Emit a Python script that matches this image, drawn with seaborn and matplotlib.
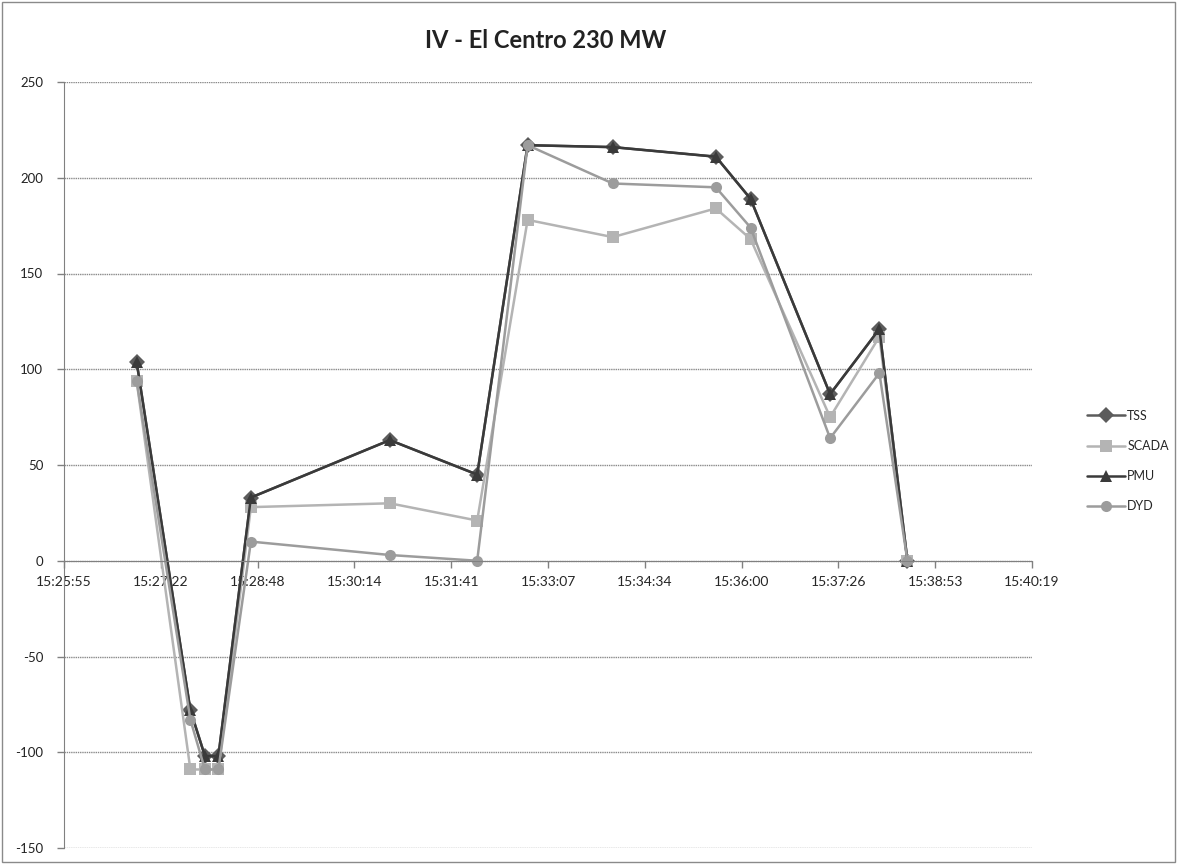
import numpy as np
import pandas as pd
import matplotlib
matplotlib.use("Agg")
import matplotlib.pyplot as plt
from matplotlib.patches import Rectangle
import seaborn as sns

# sample times (hh:mm:ss) and MW values
times = ["15:27:00", "15:27:48", "15:28:01", "15:28:13", "15:28:42", "15:30:46",
         "15:32:04", "15:32:49", "15:34:05", "15:35:37", "15:36:08", "15:37:19",
         "15:38:03", "15:38:28"]
tss = [104, -78, -102, -102, 33, 63, 45, 217, 216, 211, 189, 87, 121, 0]
scada = [94, -109, -109, -109, 28, 30, 21, 178, 169, 184, 168, 75, 117, 0]
pmu = [104, -78, -102, -102, 33, 63, 45, 217, 216, 211, 189, 87, 121, 0]
dyd = [94, -83, -109, -109, 10, 3, 0, 217, 197, 195, 174, 64, 98, 0]

series_names = ["TSS", "SCADA", "PMU", "DYD"]
x_tick_labels = ["15:25:55", "15:27:22", "15:28:48", "15:30:14", "15:31:41", "15:33:07",
                 "15:34:34", "15:36:00", "15:37:26", "15:38:53", "15:40:19"]
y_ticks = [-150, -100, -50, 0, 50, 100, 150, 200, 250]
title = "IV - El Centro 230 MW"

# Excel axis starts at 0.643 day, major unit 0.001 day (86.4 s)
AXIS_START = 0.643 * 86400
MAJOR = 86.4


def to_sec(s):
    h, m, sec = (int(v) for v in s.split(":"))
    return h * 3600 + m * 60 + sec - AXIS_START


t = [to_sec(s) for s in times]
df = pd.concat([
    pd.DataFrame({"t": t, "value": vals, "series": name})
    for name, vals in zip(series_names, [tss, scada, pmu, dyd])
], ignore_index=True)

sns.set_style("white")
plt.rcParams["font.family"] = ["Lato", "DejaVu Sans"]

fig = plt.figure(figsize=(11.77, 8.64), dpi=100)
ax = fig.add_axes([64 / 1177, 16 / 864, (1032 - 64) / 1177, (848 - 82) / 864])

palette = {"TSS": "#5c5c5c", "SCADA": "#b4b4b4", "PMU": "#3a3a3a", "DYD": "#9c9c9c"}
markers = {"TSS": "D", "SCADA": "s", "PMU": "^", "DYD": "o"}

sns.lineplot(data=df, x="t", y="value", hue="series", style="series",
             hue_order=series_names, style_order=series_names,
             palette=palette, markers=markers, dashes=False,
             sort=False, estimator=None, linewidth=1.8, markersize=8,
             markeredgewidth=0, ax=ax)

ax.set_xlim(0, 10 * MAJOR)
ax.set_ylim(-150, 250)
ax.set_xticks([i * MAJOR for i in range(len(x_tick_labels))])
ax.set_xticklabels(x_tick_labels, fontsize=9.5, color="#222222")
ax.set_yticks(y_ticks)
ax.set_yticklabels([str(v) for v in y_ticks], fontsize=9.5, color="#222222")
ax.set_xlabel("")
ax.set_ylabel("")

ax.yaxis.grid(True, color="#8a8a8a", linewidth=1, linestyle=(0, (1, 0.6)))
ax.xaxis.grid(False)
ax.set_axisbelow(True)

for side in ["top", "right"]:
    ax.spines[side].set_visible(False)
ax.spines["left"].set_color("#808080")
ax.spines["bottom"].set_color("#808080")
ax.spines["bottom"].set_position(("data", 0))
ax.tick_params(axis="y", direction="out", length=5, width=1, color="#808080", pad=10, left=True)
ax.tick_params(axis="x", direction="out", length=5, width=1, color="#808080", pad=6, bottom=True)

handles, labels = ax.get_legend_handles_labels()
ax.legend(handles, labels, loc="center left", bbox_to_anchor=(1076 / 1177, 1 - 461 / 864),
          bbox_transform=fig.transFigure, frameon=False, fontsize=9,
          handlelength=3.0, labelspacing=1.45, handletextpad=0.2)

fig.text(546 / 1177, 1 - 40 / 864, title, ha="center", va="center",
         fontsize=17, fontweight="bold", color="#222222")

fig.patches.append(Rectangle((0.002, 0.002), 0.996, 0.996, transform=fig.transFigure,
                             fill=False, edgecolor="#8a8a8a", linewidth=1))

fig.savefig("out.png", dpi=100)
